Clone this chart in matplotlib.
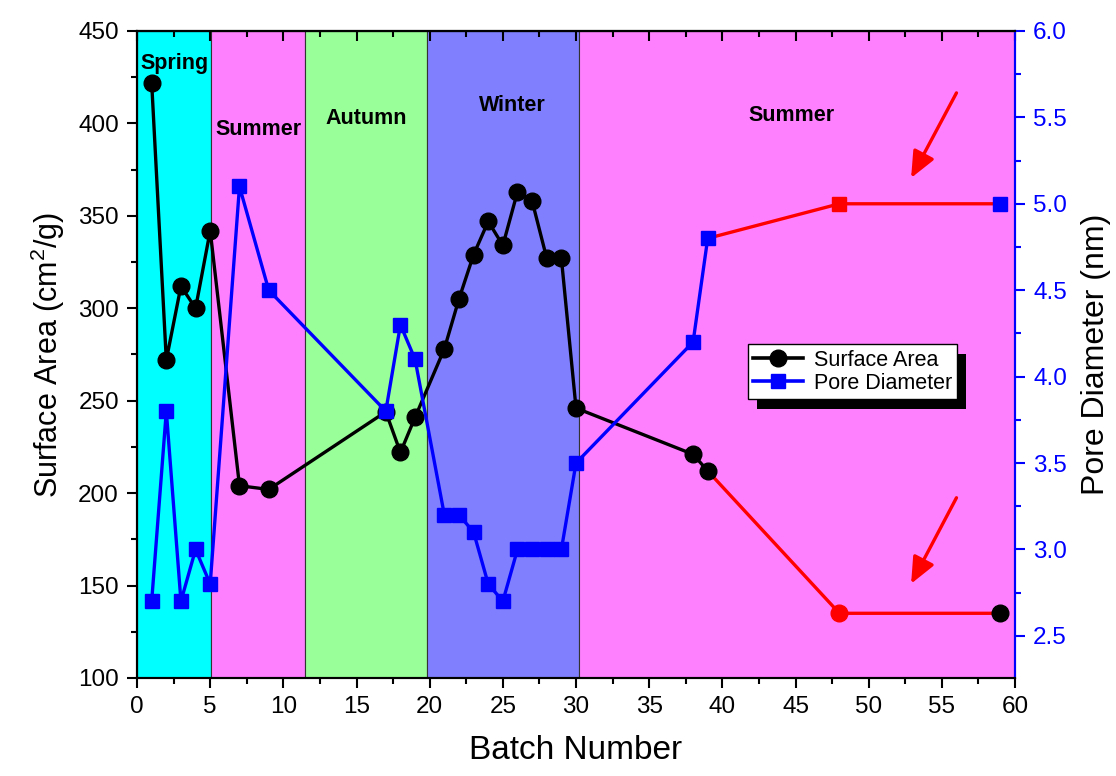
import matplotlib
matplotlib.use("Agg")
import matplotlib.pyplot as plt
import matplotlib.ticker as mticker
from matplotlib.lines import Line2D
from matplotlib.patches import Rectangle
from matplotlib.transforms import IdentityTransform

plt.rcParams["font.family"] = ["Liberation Sans", "DejaVu Sans"]
plt.rcParams["mathtext.fontset"] = "custom"
plt.rcParams["mathtext.rm"] = "Liberation Sans"
plt.rcParams["mathtext.default"] = "regular"

# measured batches
batch = [1, 2, 3, 4, 5, 7, 9, 17, 18, 19, 21, 22, 23, 24, 25, 26, 27, 28, 29, 30, 38, 39]
surface_area = [422, 272, 312, 300, 342, 204, 202, 244, 222, 241, 278, 305, 329, 347,
                334, 363, 358, 327, 327, 246, 221, 212]
pore_diameter = [2.7, 3.8, 2.7, 3.0, 2.8, 5.1, 4.5, 3.8, 4.3, 4.1, 3.2, 3.2, 3.1, 2.8,
                 2.7, 3.0, 3.0, 3.0, 3.0, 3.5, 4.2, 4.8]

# later batches (red segment)
batch_late = [48, 59]
surface_area_late = [135, 135]
pore_diameter_late = [5.0, 5.0]

# season bands: (start, end, colour, label, label_x, label_y)
seasons = [
    (0.0, 5.05, "#00FFFF", "Spring", 2.55, 432.5),
    (5.05, 11.5, "#FF80FF", "Summer", 8.3, 396.5),
    (11.5, 19.8, "#99FF99", "Autumn", 15.65, 402.5),
    (19.8, 30.2, "#8080FF", "Winter", 25.65, 409.5),
    (30.2, 60.0, "#FF80FF", "Summer", 44.7, 404.5),
]

fig = plt.figure(figsize=(11.16, 7.76), dpi=100)
ax = fig.add_axes([0.1228, 0.1263, 0.7867, 0.8338])
ax2 = ax.twinx()

for x0, x1, col, name, lx, ly in seasons:
    ax.axvspan(x0, x1, facecolor=col, edgecolor="#333333", linewidth=0.8, zorder=0)
    ax.text(lx, ly, name, ha="center", va="center", fontsize=15.5, fontweight="bold", zorder=3)

# surface area
ax.plot(batch, surface_area, color="black", lw=2.4, marker="o", ms=12, zorder=2)
ax.plot([batch[-1]] + batch_late, [surface_area[-1]] + surface_area_late,
        color="red", lw=2.4, zorder=1.9)
ax.plot(batch_late[0], surface_area_late[0], "o", color="red", ms=12, zorder=2)
ax.plot(batch_late[1], surface_area_late[1], "o", color="black", ms=12, zorder=2)

# pore diameter
ax2.plot(batch, pore_diameter, color="blue", lw=2.4, marker="s", ms=10.5, zorder=2)
ax2.plot([batch[-1]] + batch_late, [pore_diameter[-1]] + pore_diameter_late,
         color="red", lw=2.4, zorder=1.9)
ax2.plot(batch_late[0], pore_diameter_late[0], "s", color="red", ms=10.5, zorder=2)
ax2.plot(batch_late[1], pore_diameter_late[1], "s", color="blue", ms=10.5, zorder=2)

# arrows pointing at the last batches
arrow_kw = dict(arrowstyle="-|>,head_length=0.8,head_width=0.35", color="red", lw=2.4,
                mutation_scale=20, shrinkA=0, shrinkB=0)
ax.annotate("", xy=(52.9, 370.5), xytext=(56.0, 416.5), arrowprops=arrow_kw, zorder=3)
ax.annotate("", xy=(52.9, 151), xytext=(56.0, 197.5), arrowprops=arrow_kw, zorder=3)

ax.set_xlim(0, 60)
ax.set_ylim(100, 450)
ax2.set_ylim(2.256, 6.0)

ax.xaxis.set_major_locator(mticker.MultipleLocator(5))
ax.xaxis.set_minor_locator(mticker.MultipleLocator(2.5))
ax.yaxis.set_major_locator(mticker.MultipleLocator(50))
ax.yaxis.set_minor_locator(mticker.MultipleLocator(25))
ax2.yaxis.set_major_locator(mticker.MultipleLocator(0.5))
ax2.yaxis.set_minor_locator(mticker.MultipleLocator(0.25))
ax2.yaxis.set_major_formatter(mticker.FormatStrFormatter("%.1f"))

ax.tick_params(axis="both", which="major", direction="out", length=7, width=1.5,
               labelsize=17.5, pad=6)
ax.tick_params(axis="both", which="minor", direction="out", length=4, width=1.5)
ax2.tick_params(axis="y", which="major", direction="out", length=7, width=1.5,
                labelsize=17.5, colors="blue", pad=6)
ax2.tick_params(axis="y", which="minor", direction="out", length=4, width=1.5, colors="blue")

top = ax.secondary_xaxis("top")
top.xaxis.set_major_locator(mticker.MultipleLocator(5))
top.xaxis.set_minor_locator(mticker.MultipleLocator(2.5))
top.tick_params(which="major", direction="in", length=7, width=1.5, labeltop=False)
top.tick_params(which="minor", direction="in", length=4, width=1.5)

for sp in ax.spines.values():
    sp.set_linewidth(1.5)
for sp in ax2.spines.values():
    sp.set_linewidth(1.5)
ax2.spines["right"].set_color("blue")
top.spines["top"].set_linewidth(1.5)

ax.set_xlabel("Batch Number", fontsize=24, labelpad=12)
ax.set_ylabel("Surface Area (cm$^2$/g)", fontsize=22, labelpad=8)
ax2.set_ylabel("Pore Diameter (nm)", fontsize=23, labelpad=10)

handles = [
    Line2D([], [], color="black", lw=2.6, marker="o", ms=12),
    Line2D([], [], color="blue", lw=2.6, marker="s", ms=10.5),
]
leg = ax2.legend(handles, ["Surface Area", "Pore Diameter"], loc="upper left",
                 bbox_to_anchor=(0.696, 0.516), fontsize=15.5, frameon=True, fancybox=False,
                 framealpha=1, edgecolor="black", handlelength=2.3, handletextpad=0.5,
                 borderpad=0.25, labelspacing=0.1, borderaxespad=0)
leg.get_frame().set_linewidth(1.0)
leg.set_zorder(6)

# solid black drop shadow behind the legend box
fig.canvas.draw()
bb = leg.get_window_extent()
ax2.add_patch(Rectangle((bb.x0 + 9, bb.y0 - 10), bb.width, bb.height, transform=IdentityTransform(),
                        facecolor="black", edgecolor="none", zorder=5.5, clip_on=False))

fig.savefig("out.png", dpi=100, facecolor="white")
